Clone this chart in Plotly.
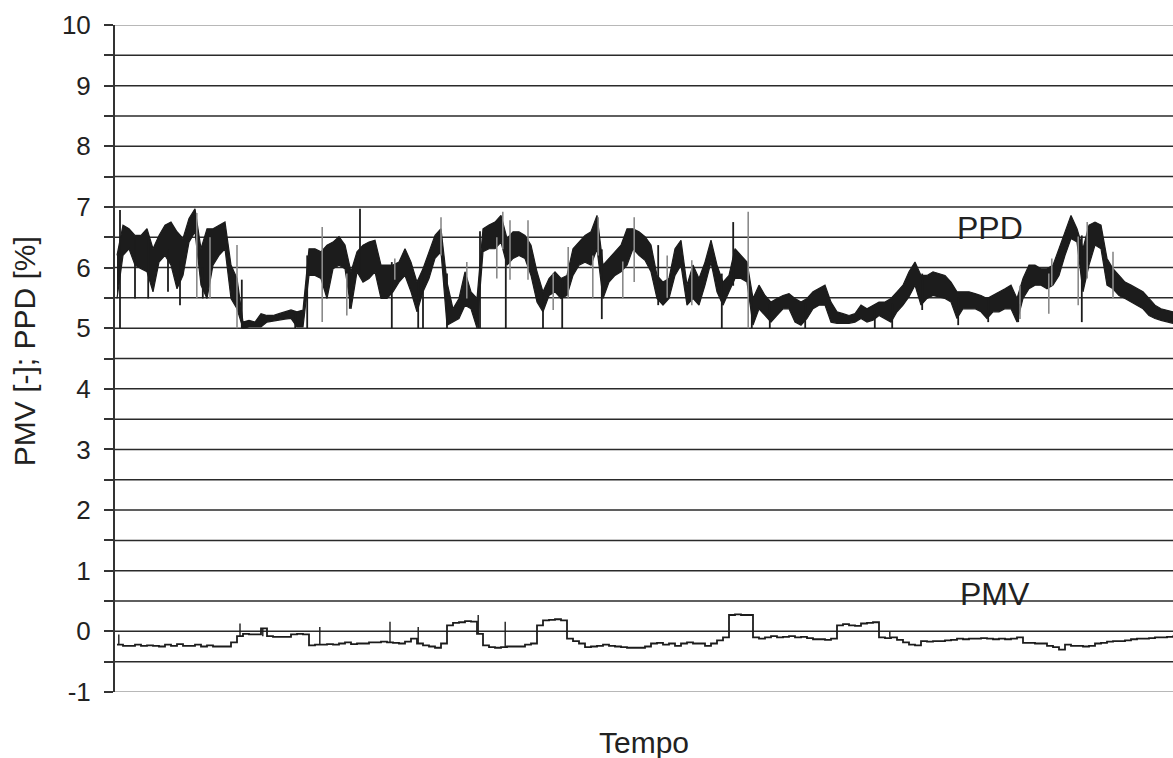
import plotly.graph_objects as go

# ---------------- data ----------------
# sample index along "Tempo" (one sample every ~6 px of the original chart)
t = list(range(177))

# PPD [%] envelope of the dense recorded signal: upper and lower edge per sample
ppd_hi = [6.20, 6.70, 6.64, 6.53, 6.53, 6.64, 6.31, 6.53, 6.70, 6.75,
          6.59, 6.48, 6.81, 6.97, 6.31, 6.64, 6.64, 6.70, 6.75, 6.04,
          5.82, 5.10, 5.13, 5.10, 5.24, 5.21, 5.21, 5.24, 5.27, 5.30,
          5.27, 5.30, 6.31, 6.31, 6.26, 6.37, 6.42, 6.51, 6.37, 5.93,
          6.26, 6.37, 6.42, 6.45, 6.04, 6.04, 6.04, 6.09, 6.31, 6.09,
          5.76, 5.98, 6.26, 6.53, 6.64, 5.76, 5.32, 5.49, 5.93, 5.60,
          5.49, 6.64, 6.70, 6.75, 6.86, 6.48, 6.59, 6.59, 6.53, 6.37,
          5.93, 5.60, 5.82, 5.93, 5.82, 5.87, 6.31, 6.42, 6.53, 6.59,
          6.86, 6.04, 6.15, 6.26, 6.37, 6.64, 6.64, 6.59, 6.51, 6.37,
          5.87, 5.76, 5.82, 6.31, 6.45, 5.71, 6.04, 5.82, 6.09, 6.45,
          6.04, 5.76, 5.87, 6.31, 6.20, 6.09, 5.49, 5.71, 5.54, 5.43,
          5.49, 5.54, 5.57, 5.49, 5.43, 5.49, 5.60, 5.65, 5.71, 5.43,
          5.27, 5.24, 5.21, 5.24, 5.38, 5.32, 5.38, 5.43, 5.43, 5.49,
          5.60, 5.71, 5.93, 6.09, 5.87, 5.87, 5.93, 5.90, 5.87, 5.76,
          5.60, 5.60, 5.60, 5.57, 5.54, 5.49, 5.54, 5.60, 5.65, 5.71,
          5.49, 5.82, 6.04, 6.04, 5.98, 5.98, 6.04, 6.31, 6.59, 6.86,
          6.64, 6.31, 6.70, 6.75, 6.70, 6.15, 5.98, 5.87, 5.76, 5.71,
          5.65, 5.60, 5.49, 5.38, 5.32, 5.30, 5.27]
ppd_lo = [5.49, 6.20, 6.31, 6.04, 5.98, 5.93, 5.60, 6.09, 6.20, 6.04,
          5.65, 5.87, 6.42, 6.59, 5.71, 5.49, 6.04, 6.20, 6.31, 5.49,
          5.32, 5.00, 5.02, 5.02, 5.02, 5.10, 5.12, 5.13, 5.15, 5.16,
          5.02, 5.02, 5.87, 5.87, 5.82, 5.49, 5.98, 6.04, 5.98, 5.32,
          5.93, 5.76, 5.82, 5.93, 5.49, 5.49, 5.60, 5.76, 5.87, 5.60,
          5.27, 5.60, 5.82, 6.15, 6.26, 5.05, 5.10, 5.16, 5.38, 5.32,
          5.00, 6.26, 6.31, 6.31, 6.42, 6.04, 6.15, 6.20, 6.15, 5.87,
          5.43, 5.27, 5.54, 5.60, 5.49, 5.54, 5.87, 6.04, 6.09, 6.04,
          6.31, 5.49, 5.76, 5.87, 5.93, 6.04, 6.31, 6.20, 6.12, 5.93,
          5.49, 5.38, 5.49, 5.87, 6.04, 5.38, 5.49, 5.38, 5.71, 6.09,
          5.60, 5.38, 5.60, 5.82, 5.82, 5.76, 5.05, 5.32, 5.21, 5.10,
          5.21, 5.32, 5.32, 5.10, 5.05, 5.16, 5.32, 5.38, 5.38, 5.10,
          5.08, 5.08, 5.08, 5.10, 5.16, 5.10, 5.13, 5.21, 5.16, 5.10,
          5.27, 5.38, 5.52, 5.71, 5.38, 5.49, 5.54, 5.52, 5.49, 5.43,
          5.16, 5.32, 5.32, 5.32, 5.27, 5.16, 5.27, 5.27, 5.32, 5.32,
          5.10, 5.49, 5.65, 5.71, 5.71, 5.65, 5.71, 5.87, 6.20, 6.48,
          6.42, 5.60, 6.04, 6.37, 6.31, 5.71, 5.65, 5.54, 5.49, 5.43,
          5.38, 5.32, 5.21, 5.16, 5.13, 5.10, 5.08]

# isolated short excursions of the PPD record (position, bottom, top)
ppd_spike_t  = [0.5, 3.0, 5.2, 8.5, 10.5, 14.3, 20.8, 29.7, 31.7, 38.8,
                40.5, 45.8, 50.2, 51.0, 55.0, 60.2, 60.5, 64.8, 71.0, 74.2,
                80.8, 90.2, 100.8, 102.7, 105.8, 108.8, 114.7, 126.3, 129.2,
                134.2, 140.2, 145.2, 150.2, 160.8]
ppd_spike_lo = [5.00, 5.49, 5.49, 5.60, 5.38, 5.49, 5.00, 5.00, 5.00, 5.32,
                5.90, 5.00, 5.00, 5.00, 5.00, 5.00, 5.00, 5.00, 5.00, 5.00,
                5.15, 5.38, 5.00, 5.70, 5.00, 5.00, 5.00, 5.00, 5.00,
                5.30, 5.05, 5.10, 5.10, 5.10]
ppd_spike_hi = [6.95, 6.50, 6.50, 6.30, 6.10, 6.00, 5.80, 5.27, 6.20, 5.90,
                6.97, 6.09, 5.80, 5.98, 5.90, 5.60, 6.60, 6.20, 5.60, 5.80,
                6.30, 6.37, 5.90, 6.75, 5.50, 5.40, 5.40, 5.30, 5.40,
                5.90, 5.50, 5.50, 5.40, 6.53]
# fainter (grey) excursions
ppd_gspike_t  = [13.3, 15.5, 20.0, 34.2, 38.3, 46.3, 54.0, 58.3, 63.3, 64.3,
                 65.5, 68.5, 72.7, 75.2, 79.3, 80.2, 84.3, 86.2, 91.7, 95.8,
                 105.2, 150.5, 155.3, 155.8, 160.2, 161.7, 166.0]
ppd_gspike_lo = [5.49, 5.49, 5.00, 5.10, 5.21, 5.80, 6.20, 5.49, 5.82, 6.30,
                 5.80, 5.80, 5.30, 5.50, 5.50, 6.20, 5.49, 5.76, 5.50, 5.38,
                 5.00, 5.15, 5.24, 5.70, 5.38, 5.82, 5.49]
ppd_gspike_hi = [6.90, 6.50, 6.37, 6.67, 5.90, 6.15, 6.83, 6.09, 6.50, 6.92,
                 6.78, 6.78, 5.90, 6.34, 6.20, 6.83, 6.10, 6.83, 6.20, 6.12,
                 6.92, 5.70, 5.90, 6.15, 6.51, 6.75, 6.26]

# PMV [-]
pmv = [-0.22, -0.24, -0.24, -0.22, -0.24, -0.23, -0.24, -0.25, -0.22, -0.24,
       -0.21, -0.24, -0.24, -0.22, -0.25, -0.23, -0.25, -0.25, -0.25, -0.18,
       -0.08, -0.04, -0.05, -0.05, 0.05, -0.08, -0.09, -0.09, -0.09, -0.05,
       -0.04, -0.05, -0.23, -0.22, -0.22, -0.21, -0.22, -0.20, -0.18, -0.21,
       -0.20, -0.20, -0.18, -0.18, -0.17, -0.18, -0.19, -0.20, -0.17, -0.12,
       -0.20, -0.23, -0.25, -0.27, -0.20, 0.10, 0.14, 0.15, 0.17, 0.16,
       -0.04, -0.23, -0.26, -0.27, -0.26, -0.25, -0.25, -0.25, -0.22, -0.20,
       0.10, 0.18, 0.19, 0.20, 0.18, -0.12, -0.16, -0.20, -0.26, -0.25,
       -0.24, -0.22, -0.24, -0.25, -0.26, -0.27, -0.27, -0.27, -0.25, -0.20,
       -0.19, -0.22, -0.20, -0.24, -0.20, -0.18, -0.20, -0.20, -0.24, -0.20,
       -0.15, -0.10, 0.27, 0.28, 0.27, 0.27, -0.10, -0.12, -0.10, -0.08,
       -0.10, -0.09, -0.08, -0.10, -0.09, -0.11, -0.13, -0.13, -0.14, -0.12,
       0.10, 0.12, 0.10, 0.09, 0.13, 0.14, 0.15, -0.10, -0.11, -0.10,
       -0.14, -0.18, -0.22, -0.23, -0.16, -0.17, -0.16, -0.16, -0.15, -0.14,
       -0.12, -0.13, -0.12, -0.12, -0.11, -0.12, -0.13, -0.12, -0.13, -0.12,
       -0.10, -0.19, -0.19, -0.20, -0.20, -0.24, -0.26, -0.30, -0.22, -0.24,
       -0.24, -0.25, -0.24, -0.20, -0.19, -0.17, -0.16, -0.16, -0.15, -0.13,
       -0.12, -0.12, -0.11, -0.10, -0.10, -0.09, -0.07]
pmv_spike_t  = [0.3, 20.5, 24.3, 33.8, 45.5, 50.2, 60.2, 64.7, 128.8]
pmv_spike_lo = [-0.22, -0.08, -0.08, -0.22, -0.18, -0.20, -0.04, -0.26, -0.10]
pmv_spike_hi = [-0.05, 0.13, 0.05, 0.07, 0.16, 0.07, 0.27, 0.16, 0.00]

# axis
y_ticks = [v / 2 for v in range(-2, 21)]
y_ticktext = [str(int(v)) if v == int(v) else "" for v in y_ticks]
series_labels = ["PPD", "PMV"]
x_title = "Tempo"
y_title = "PMV [-]; PPD [%]"

# ---------------- figure ----------------
INK = "#1c1c1c"
GREY = "#8a8a8a"
FONT = "Liberation Sans, Arial, sans-serif"


def segments(xs, lo, hi):
    sx, sy = [], []
    for x, a, b in zip(xs, lo, hi):
        sx += [x, x, None]
        sy += [a, b, None]
    return sx, sy


fig = go.Figure()

# PPD band
fig.add_trace(go.Scatter(x=t, y=ppd_lo, mode="lines",
                         line=dict(color=INK, width=1.2), showlegend=False,
                         hoverinfo="skip"))
fig.add_trace(go.Scatter(x=t, y=ppd_hi, mode="lines", fill="tonexty",
                         fillcolor=INK, line=dict(color=INK, width=1.2),
                         showlegend=False, name="PPD"))
gx, gy = segments(ppd_gspike_t, ppd_gspike_lo, ppd_gspike_hi)
fig.add_trace(go.Scatter(x=gx, y=gy, mode="lines",
                         line=dict(color=GREY, width=1.6), showlegend=False,
                         hoverinfo="skip"))
sx, sy = segments(ppd_spike_t, ppd_spike_lo, ppd_spike_hi)
fig.add_trace(go.Scatter(x=sx, y=sy, mode="lines",
                         line=dict(color=INK, width=1.8), showlegend=False,
                         hoverinfo="skip"))

# PMV line
fig.add_trace(go.Scatter(x=t, y=pmv, mode="lines", line_shape="hv",
                         line=dict(color=INK, width=1.8), showlegend=False,
                         name="PMV"))
mx, my = segments(pmv_spike_t, pmv_spike_lo, pmv_spike_hi)
fig.add_trace(go.Scatter(x=mx, y=my, mode="lines",
                         line=dict(color=INK, width=1.4), showlegend=False,
                         hoverinfo="skip"))

# horizontal gridlines at every tick (edges lighter)
shapes = []
for v in y_ticks:
    edge = v in (y_ticks[0], y_ticks[-1])
    shapes.append(dict(type="line", xref="paper", x0=0, x1=1, yref="y",
                       y0=v, y1=v, layer="below",
                       line=dict(color="#a0a0a0" if edge else "#2a2a2a",
                                 width=1.5)))

fig.update_layout(
    width=1173, height=758,
    margin=dict(l=115, r=0, t=25, b=66),
    paper_bgcolor="white", plot_bgcolor="white",
    font=dict(family=FONT, size=26, color="#222222"),
    shapes=shapes,
    showlegend=False,
    xaxis=dict(range=[-1 / 3, 176], showticklabels=False, ticks="",
               showgrid=False, zeroline=False, showline=False),
    yaxis=dict(range=[-1, 10], tickvals=y_ticks, ticktext=y_ticktext,
               ticks="outside", ticklen=9, tickwidth=1.5, tickcolor="#333333",
               ticklabelstandoff=8,
               showgrid=False, zeroline=False, showline=True,
               linecolor="#333333", linewidth=2,
               tickfont=dict(size=26, color="#222222")),
    annotations=[
        dict(text=y_title, xref="paper", yref="paper", x=-0.086, y=0.511,
             textangle=-90, showarrow=False, xanchor="center",
             yanchor="middle", font=dict(size=30)),
        dict(text=x_title, xref="paper", yref="paper", x=0.5, y=-0.075,
             showarrow=False, xanchor="center", yanchor="middle",
             font=dict(size=30)),
        dict(text=series_labels[0], x=145.5, y=6.65, xref="x", yref="y",
             showarrow=False, font=dict(size=32)),
        dict(text=series_labels[1], x=146.3, y=0.62, xref="x", yref="y",
             showarrow=False, font=dict(size=32)),
    ],
)

fig.write_html("out.html", config={"displayModeBar": False},
               post_script="document.body.style.margin='0';")
